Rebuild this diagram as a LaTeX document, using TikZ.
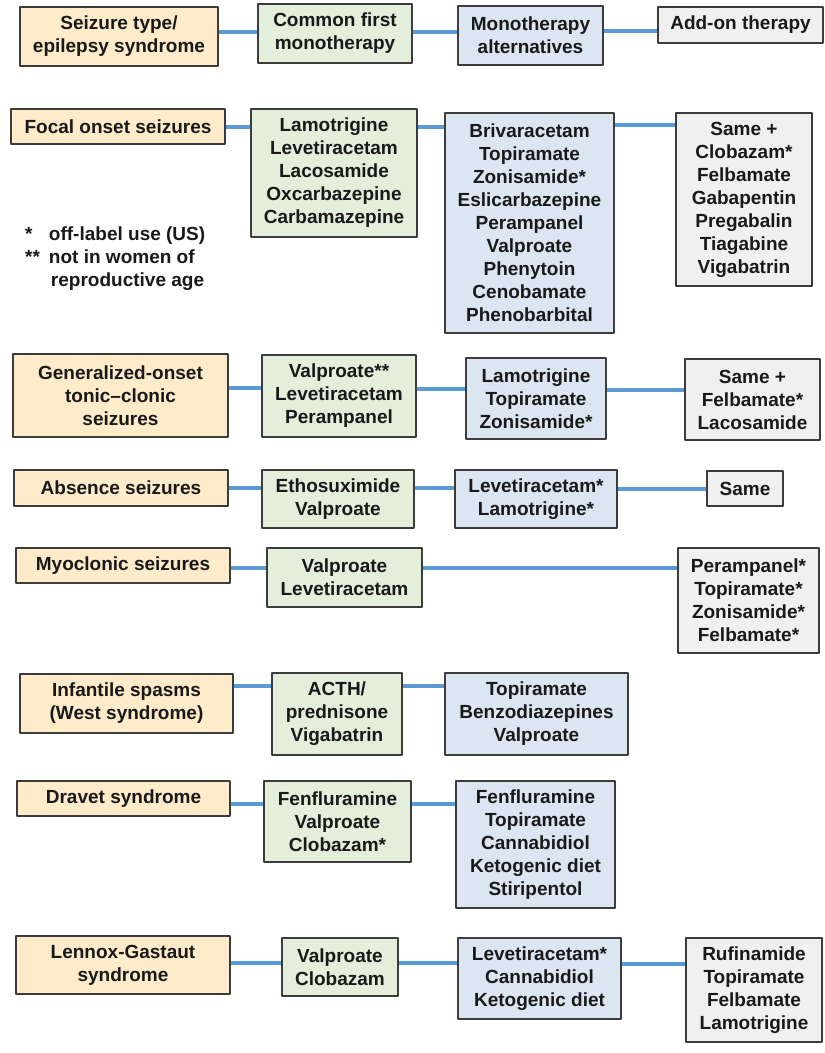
\documentclass[tikz,border=0pt]{standalone}
\usepackage{fontspec}
\setmainfont{Liberation Sans}
\usetikzlibrary{positioning}
\definecolor{cYel}{RGB}{253,235,202}
\definecolor{cGrn}{RGB}{227,238,219}
\definecolor{cBlu}{RGB}{220,230,242}
\definecolor{cGry}{RGB}{240,240,240}
\definecolor{cEdge}{RGB}{60,60,60}
\definecolor{cLink}{RGB}{91,155,213}
\definecolor{cInk}{RGB}{25,25,25}
\tikzset{
  box/.style={draw=cEdge,line width=1.4pt,inner sep=0pt,align=center,text=cInk,
    font=\fontsize{19}{23}\selectfont\bfseries},
  wh/.style 2 args={minimum width=#1pt,minimum height=#2pt},
  onset/.style={box,fill=cYel},
  first/.style={box,fill=cGrn},
  alt/.style={box,fill=cBlu},
  addon/.style={box,fill=cGry},
  link/.style={cLink,line width=4pt}
}
\begin{document}
\begin{tikzpicture}[x=1pt,y=-1pt,line join=round]
\useasboundingbox[fill=white] (0,0) rectangle (825,1053);
% header
\node[onset,wh={198}{59}] (h1) at (119,36.5) {Seizure type/\\epilepsy syndrome};
\node[first,wh={154}{59}] (h2) at (335,33.5) {Common first\\monotherapy};
\node[alt,wh={145}{59}] (h3) at (530.5,35.5) {Monotherapy\\alternatives};
\node[addon,wh={165}{36}] (h4) at (740.5,25) {Add-on therapy};
% focal onset
\node[onset,wh={214}{35}] (f1) at (118,126.5) {Focal onset seizures};
\node[first,wh={166}{128}] (f2) at (334,173) {Lamotrigine\\Levetiracetam\\Lacosamide\\Oxcarbazepine\\Carbamazepine};
\node[alt,wh={169}{220}] (f3) at (529.5,223) {Brivaracetam\\Topiramate\\Zonisamide*\\Eslicarbazepine\\Perampanel\\Valproate\\Phenytoin\\Cenobamate\\Phenobarbital};
\node[addon,wh={136}{173}] (f4) at (744,199.5) {Same +\\Clobazam*\\Felbamate\\Gabapentin\\Pregabalin\\Tiagabine\\Vigabatrin};
% legend
\node[anchor=north west,inner sep=0pt,text=cInk,font=\fontsize{19}{23}\selectfont\bfseries] (key) at (25,224)
  {\begin{tabular}{@{}l@{\hspace{9pt}}l@{}}{*}&off-label use (US)\\{**}&not in women of\\{}&\hspace{2pt}reproductive age\end{tabular}};
% generalized onset
\node[onset,wh={215}{83}] (g1) at (120.5,395.5) {Generalized-onset\\tonic--clonic\\seizures};
\node[first,wh={154}{82}] (g2) at (339,396) {Valproate**\\Levetiracetam\\Perampanel};
\node[alt,wh={140}{81}] (g3) at (536,398.5) {Lamotrigine\\Topiramate\\Zonisamide*};
\node[addon,wh={135}{81}] (g4) at (752.5,399.5) {Same +\\Felbamate*\\Lacosamide};
% absence
\node[onset,wh={214}{36}] (a1) at (121,488) {Absence seizures};
\node[first,wh={152}{58}] (a2) at (338,499) {Ethosuximide\\Valproate};
\node[alt,wh={162}{58}] (a3) at (536,499) {Levetiracetam*\\Lamotrigine*};
\node[addon,wh={76}{35}] (a4) at (745,488.5) {Same};
% myoclonic
\node[onset,wh={214}{35}] (m1) at (123,565.5) {Myoclonic seizures};
\node[first,wh={155}{59}] (m2) at (344.5,577.5) {Valproate\\Levetiracetam};
\node[addon,wh={141}{105}] (m4) at (748.5,600.5) {Perampanel*\\Topiramate*\\Zonisamide*\\Felbamate*};
% infantile spasms
\node[onset,wh={213}{59}] (i1) at (126.5,703.5) {Infantile spasms\\(West syndrome)};
\node[first,wh={130}{82}] (i2) at (337,714) {ACTH/\\prednisone\\Vigabatrin};
\node[alt,wh={183}{82}] (i3) at (536.5,714) {Topiramate\\Benzodiazepines\\Valproate};
% dravet
\node[onset,wh={213}{35}] (d1) at (123.5,798.5) {Dravet syndrome};
\node[first,wh={147}{81}] (d2) at (337.5,821.5) {Fenfluramine\\Valproate\\Clobazam*};
\node[alt,wh={159}{127}] (d3) at (535.5,844.5) {Fenfluramine\\Topiramate\\Cannabidiol\\Ketogenic diet\\Stiripentol};
% lennox-gastaut
\node[onset,wh={214}{58}] (l1) at (123,965) {Lennox-Gastaut\\syndrome};
\node[first,wh={116}{58}] (l2) at (340,967) {Valproate\\Clobazam};
\node[alt,wh={163}{81}] (l3) at (539.5,978.5) {Levetiracetam*\\Cannabidiol\\Ketogenic diet};
\node[addon,wh={136}{104}] (l4) at (754,990) {Rufinamide\\Topiramate\\Felbamate\\Lamotrigine};
% connectors
\foreach \a/\b/\y in {h1/h2/32,h2/h3/32,h3/h4/31,
  f1/f2/127,f2/f3/127,f3/f4/125,
  g1/g2/388,g2/g3/389,g3/g4/390,
  a1/a2/488,a2/a3/488,a3/a4/489,
  m1/m2/568,m2/m4/568,
  i1/i2/686,i2/i3/686,
  d1/d2/804,d2/d3/804,
  l1/l2/963,l2/l3/963,l3/l4/964}{\draw[link] (\a.east |- 0,\y) -- (\b.west |- 0,\y);}
\end{tikzpicture}
\end{document}
